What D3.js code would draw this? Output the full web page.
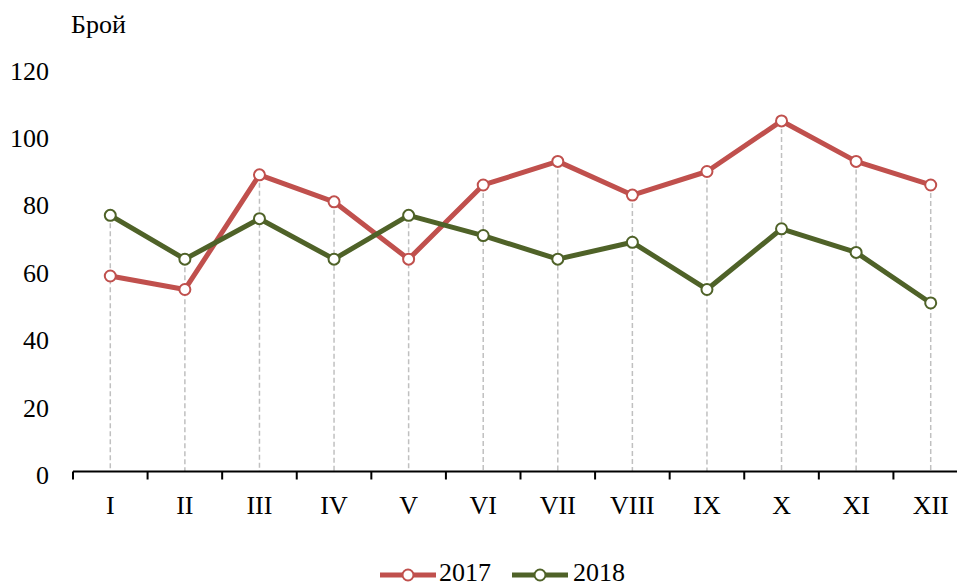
<!DOCTYPE html>
<html>
<head>
<meta charset="utf-8">
<script src="https://cdn.jsdelivr.net/npm/d3@7"></script>
<style>
  html, body { margin: 0; padding: 0; background: #fff; }
  svg { display: block; }
  svg text { font-family: "Liberation Serif", "Times New Roman", serif; }
</style>
</head>
<body>
<svg id="chart" width="957" height="587"></svg>
<script>
const categories = ["I","II","III","IV","V","VI","VII","VIII","IX","X","XI","XII"];
const series2017 = [58, 54, 88, 80, 63, 85, 92, 82, 89, 104, 92, 85];
const series2018 = [76, 63, 75, 63, 76, 70, 63, 68, 54, 72, 65, 50];
const yTicks = [0, 20, 40, 60, 80, 100, 120];
const seriesNames = ["2017", "2018"];
const colors = ["#C0504D", "#4F6228"];
const yTitle = "Брой";
const FS = 26;

const svg = d3.select("#chart");
const x = d3.scaleBand().domain(categories).range([73, 968]);
const y = d3.scaleLinear().domain([0, 120]).range([471.5, 67]);

// drop lines
svg.append("g").selectAll("line").data(categories).join("line")
  .attr("x1", d => x(d) + x.bandwidth()/2)
  .attr("x2", d => x(d) + x.bandwidth()/2)
  .attr("y1", (d,i) => y(Math.max(series2017[i], series2018[i])))
  .attr("y2", y(0))
  .attr("stroke", "#c0c0c0").attr("stroke-width", 1.5)
  .attr("stroke-dasharray", "5,3");

// y tick labels
svg.append("g").selectAll("text").data(yTicks).join("text")
  .attr("x", 49).attr("y", d => y(d) + 12.5)
  .attr("text-anchor", "end")
  .attr("font-size", FS).attr("fill", "#000")
  .text(d => d);

svg.append("text").attr("x", 71).attr("y", 33)
  .attr("font-size", FS).attr("fill", "#000").text(yTitle);

// x axis
const xAxis = svg.append("g").attr("transform", `translate(0,${y(0)})`);
xAxis.append("line").attr("x1", 73).attr("x2", 968).attr("stroke", "#000").attr("stroke-width", 2);
const boundaries = categories.map(c => x(c));
xAxis.selectAll("line.tick").data(boundaries).join("line").attr("class","tick")
  .attr("x1", d => d).attr("x2", d => d).attr("y1", 0).attr("y2", 8)
  .attr("stroke", "#000").attr("stroke-width", 2);
svg.append("g").selectAll("text").data(categories).join("text")
  .attr("x", d => x(d) + x.bandwidth()/2).attr("y", 514)
  .attr("text-anchor", "middle")
  .attr("font-size", FS).attr("fill", "#000").text(d => d);

// lines
const allSeries = [series2017, series2018];
const line = d3.line().x((d,i) => x(categories[i]) + x.bandwidth()/2).y(d => y(d));
allSeries.forEach((s, k) => {
  svg.append("path").datum(s).attr("d", line)
    .attr("fill", "none").attr("stroke", colors[k]).attr("stroke-width", 5)
    .attr("stroke-linejoin", "round");
  svg.append("g").selectAll("circle").data(s).join("circle")
    .attr("cx", (d,i) => x(categories[i]) + x.bandwidth()/2)
    .attr("cy", d => y(d)).attr("r", 5.5)
    .attr("fill", "#fff").attr("stroke", colors[k]).attr("stroke-width", 2);
});

// legend
const legendItems = [{x0: 380, tx: 439}, {x0: 512, tx: 573}];
legendItems.forEach((L, k) => {
  const g = svg.append("g");
  g.append("line").attr("x1", L.x0).attr("x2", L.x0 + 56).attr("y1", 575).attr("y2", 575)
    .attr("stroke", colors[k]).attr("stroke-width", 5);
  g.append("circle").attr("cx", L.x0 + 28).attr("cy", 575).attr("r", 5.5)
    .attr("fill", "#fff").attr("stroke", colors[k]).attr("stroke-width", 2);
  g.append("text").attr("x", L.tx).attr("y", 581)
    .attr("font-size", FS).attr("fill", "#000").text(seriesNames[k]);
});
</script>
</body>
</html>
